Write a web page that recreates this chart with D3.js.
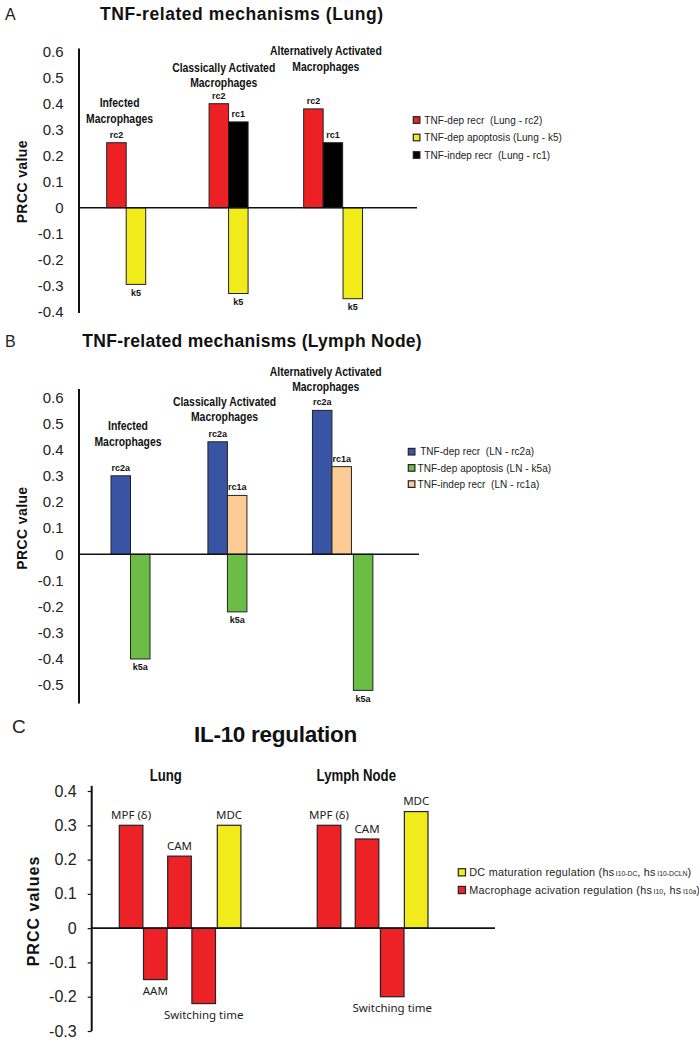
<!DOCTYPE html>
<html><head><meta charset="utf-8">
<script src="https://cdn.jsdelivr.net/npm/d3@7"></script>
<style>
body{margin:0;background:#fff;}
svg{display:block;}
</style></head><body>
<script>
// ================= DATA =================
// Panel A : TNF-related mechanisms (Lung)
const groupsA = [["Infected","Macrophages"],["Classically Activated","Macrophages"],["Alternatively Activated","Macrophages"]];
const lungRc2 = [0.25, 0.40, 0.38];
const lungRc1 = [null, 0.33, 0.25];
const lungK5  = [-0.295, -0.33, -0.35];
const seriesNamesA = ["TNF-dep recr  (Lung - rc2)", "TNF-dep apoptosis (Lung - k5)", "TNF-indep recr  (Lung - rc1)"];
const barTagsA = ["rc2", "k5", "rc1"];
const ticksA = [0.6,0.5,0.4,0.3,0.2,0.1,0,-0.1,-0.2,-0.3,-0.4];

// Panel B : TNF-related mechanisms (Lymph Node)
const groupsB = [["Infected","Macrophages"],["Classically Activated","Macrophages"],["Alternatively Activated","Macrophages"]];
const lnRc2a = [0.30, 0.43, 0.55];
const lnRc1a = [null, 0.225, 0.335];
const lnK5a  = [-0.40, -0.22, -0.52];
const seriesNamesB = [" TNF-dep recr  (LN - rc2a)", "TNF-dep apoptosis (LN - k5a)", "TNF-indep recr  (LN - rc1a)"];
const barTagsB = ["rc2a", "k5a", "rc1a"];
const ticksB = [0.6,0.5,0.4,0.3,0.2,0.1,0,-0.1,-0.2,-0.3,-0.4,-0.5];

// Panel C : IL-10 regulation
const il10Groups = ["Lung", "Lymph Node"];
const il10LungLabels = ["MPF (\u03B4)", "AAM", "CAM", "Switching time", "MDC"];
const il10LungValues = [0.30, -0.15, 0.21, -0.22, 0.30];
const il10LungKinds  = ["mac", "mac", "mac", "mac", "dc"];
const il10LnLabels = ["MPF (\u03B4)", "CAM", "Switching time", "MDC"];
const il10LnValues = [0.30, 0.26, -0.20, 0.34];
const il10LnKinds  = ["mac", "mac", "mac", "dc"];
const ticksC = [0.4,0.3,0.2,0.1,0,-0.1,-0.2,-0.3];
const legendC = [
  {kind:"dc",  parts:[["DC maturation regulation (hs",0],["I10-DC",1],[", hs",0],["I10-DCLN",1],[")",0]]},
  {kind:"mac", parts:[["Macrophage acivation regulation (hs",0],["I10",1],[", hs",0],["I10a",1],[")",0]]}
];

// ================= STYLE / LAYOUT =================
const SANS = "'Liberation Sans',Arial,Helvetica,sans-serif";
const HUMAN = "'Noto Sans','Open Sans',sans-serif";
const colA = ["#ED2024", "#F2EB1A", "#000000"];
const colB = ["#3A54A5", "#6BBD46", "#FDCB96"];
const colC = {mac:"#EC2227", dc:"#F2EB1B"};

const svg = d3.select("body").append("svg").attr("width",699).attr("height",1050)
  .style("font-family", SANS);

function fmtTick(d){ return d === 0 ? "0" : d.toFixed(1); }
// condense a text horizontally (imitates a narrow bold face)
function condense(sel, f){
  sel.each(function(){
    const w = this.getComputedTextLength();
    d3.select(this).attr("textLength", w*f).attr("lengthAdjust","spacingAndGlyphs");
  });
}

// ---------- TNF panels (A, B) ----------
function tnfPanel(o){
  const g = svg.append("g");
  const x = d3.scaleLinear().domain([0,1]).range([o.x0, o.x0 + o.unit]);
  const y = d3.scaleLinear().domain(o.domain).range(o.range);
  const bw = x(1) - x(0);

  g.append("text").attr("x",5).attr("y",o.titleY).attr("font-size",16).attr("fill","#222").text(o.letter);
  g.append("text").attr("x",o.titleX0).attr("y",o.titleY).attr("font-size",17.5).attr("font-weight","bold")
    .attr("fill","#111").attr("textLength",o.titleW).attr("lengthAdjust","spacing").text(o.title);

  const ax = g.append("g").attr("transform",`translate(${o.axisX},0)`)
    .call(d3.axisLeft(y).tickValues(o.ticks).tickFormat(fmtTick).tickSize(0).tickPadding(15.5));
  ax.select(".domain").remove();
  ax.selectAll("text").attr("font-size",15).attr("font-family",SANS).attr("fill","#222");
  g.append("line").attr("x1",o.axisX).attr("x2",o.axisX).attr("y1",y(o.axisTop)).attr("y2",y(o.axisBottom))
    .attr("stroke","#111").attr("stroke-width",2);
  g.append("text").attr("transform",`translate(26.5,${y(o.axisTitleV)}) rotate(-90)`)
    .attr("text-anchor","middle").attr("font-size",14).attr("font-weight","bold").attr("letter-spacing",0.4)
    .attr("fill","#111").text("PRCC value");

  const bars = [];
  o.series.forEach((vals,si)=>{
    vals.forEach((v,gi)=>{
      if(v===null) return;
      bars.push({v, si, gi, pos: o.groupStart[gi] + o.slots[si][gi]});
    });
  });
  g.selectAll("rect.bar").data(bars).join("rect").attr("class","bar")
    .attr("x",d=>x(d.pos)).attr("width",bw)
    .attr("y",d=>Math.min(y(d.v),y(0))).attr("height",d=>Math.abs(y(d.v)-y(0)))
    .attr("fill",d=>o.colors[d.si]).attr("stroke","#222").attr("stroke-width",1);
  g.selectAll("text.tag").data(bars).join("text").attr("class","tag")
    .attr("x",d=>x(d.pos)+bw/2).attr("y",d=>d.v>0 ? y(d.v)-5 : y(d.v)+11.5)
    .attr("text-anchor","middle").attr("font-size",9).attr("font-weight","bold").attr("fill","#111")
    .text(d=>o.tags[d.si]);

  g.append("line").attr("x1",o.axisX).attr("x2",o.zeroEnd).attr("y1",y(0)).attr("y2",y(0))
    .attr("stroke","#111").attr("stroke-width",1.6);

  o.groups.forEach((lines,gi)=>{
    lines.forEach((ln,li)=>{
      const t = g.append("text").attr("font-weight","bold").attr("font-size",13)
        .attr("text-anchor","middle").attr("fill","#111")
        .attr("x",x(o.groupStart[gi]+o.labelOff[gi]))
        .attr("y",y(o.labelV[gi]) - (lines.length-1-li)*15.5).text(ln);
      condense(t, 0.8);
    });
  });

  o.names.forEach((nm,i)=>{
    const cy = o.legY + i*o.legStep;
    g.append("rect").attr("x",o.legX).attr("y",cy-3.3).attr("width",6.6).attr("height",6.6)
      .attr("fill",o.colors[i]).attr("stroke","#222").attr("stroke-width",1.2);
    g.append("text").attr("x",o.legTextX).attr("y",cy+3.6).attr("font-size",10).attr("letter-spacing",0.05)
      .attr("fill","#222").style("white-space","pre").text(nm);
  });
}

tnfPanel({
  letter:"A", title:"TNF-related mechanisms (Lung)", titleX0:100, titleW:283, titleY:20,
  x0:106.7, unit:19.5, domain:[-0.4,0.6], range:[311.7,51.7], ticks:ticksA,
  axisX:79, axisTop:0.612, axisBottom:-0.405, axisTitleV:0.1,
  zeroEnd:417,
  series:[lungRc2, lungK5, lungRc1], slots:[[0,0,0],[1,1,2.02],[1,1,1]],
  groupStart:[0,5.25,10.1], colors:colA, tags:barTagsA, names:seriesNamesA,
  groups:groupsA, labelOff:[0.66,0.75,1.14], labelV:[0.326,0.464,0.526],
  legX:413.3, legY:120, legStep:17.5, legTextX:424.3
});

tnfPanel({
  letter:"B", title:"TNF-related mechanisms (Lymph Node)", titleX0:82.3, titleW:339.4, titleY:347.3,
  x0:111, unit:19.5, domain:[-0.6,0.6], range:[711.3,397.3], ticks:ticksB,
  axisX:79, axisTop:0.632, axisBottom:-0.57, axisTitleV:0.1,
  zeroEnd:419,
  series:[lnRc2a, lnK5a, lnRc1a], slots:[[0,0,0],[1,1,2.1],[1,1,1]],
  groupStart:[0,4.97,10.33], colors:colB, tags:barTagsB, names:seriesNamesB,
  groups:groupsB, labelOff:[0.87,0.85,0.68], labelV:[0.414,0.509,0.624],
  legX:408.3, legY:451.7, legStep:16.2, legTextX:417.5
});

// ---------- Panel C ----------
(function(){
  const g = svg.append("g");
  const x = d3.scaleLinear().domain([0,1]).range([119.3,143.5]);
  const y = d3.scaleLinear().domain([-0.3,0.4]).range([1031,791]);
  const bw = (x(1)-x(0))*0.975;
  const axisX = 91.7;

  g.append("text").attr("x",12).attr("y",733.3).attr("font-size",19).attr("fill","#222").text("C");
  g.append("text").attr("x",194).attr("y",741.7).attr("font-size",22.5).attr("font-weight","bold")
    .attr("fill","#111").attr("textLength",163.3).attr("lengthAdjust","spacing").text("IL-10 regulation");

  const ax = g.append("g").attr("transform",`translate(${axisX},0)`)
    .call(d3.axisLeft(y).tickValues(ticksC).tickFormat(fmtTick).tickSize(4).tickPadding(11));
  ax.select(".domain").remove();
  ax.selectAll("line").attr("stroke","#111").attr("stroke-width",1.2);
  ax.selectAll("text").attr("font-size",16).attr("font-family",SANS).attr("fill","#222");
  g.append("line").attr("x1",axisX).attr("x2",axisX).attr("y1",y(0.415)).attr("y2",y(-0.3))
    .attr("stroke","#111").attr("stroke-width",2);
  g.append("text").attr("transform",`translate(38.5,${y(0.05)}) rotate(-90)`)
    .attr("text-anchor","middle").attr("font-size",16).attr("font-weight","bold").attr("letter-spacing",1)
    .attr("fill","#111").text("PRCC values");

  const lungSlots = [0,1,2,3,4.05];
  const lnSlots = [8.18,9.75,10.79,11.78];
  const bars = [];
  il10LungValues.forEach((v,i)=>bars.push({v, label:il10LungLabels[i], kind:il10LungKinds[i], pos:lungSlots[i]}));
  il10LnValues.forEach((v,i)=>bars.push({v, label:il10LnLabels[i], kind:il10LnKinds[i], pos:lnSlots[i]}));

  g.selectAll("rect.bar").data(bars).join("rect").attr("class","bar")
    .attr("x",d=>x(d.pos)).attr("width",bw)
    .attr("y",d=>Math.min(y(d.v),y(0))).attr("height",d=>Math.abs(y(d.v)-y(0)))
    .attr("fill",d=>colC[d.kind]).attr("stroke","#222").attr("stroke-width",1.2);
  g.selectAll("text.tag").data(bars).join("text").attr("class","tag")
    .attr("x",d=>x(d.pos)+bw/2).attr("y",d=>d.v>0 ? y(d.v)-6.5 : y(d.v)+15)
    .attr("text-anchor","middle").attr("font-family",HUMAN).attr("font-size",11.5).attr("fill","#222")
    .text(d=>d.label);

  g.append("line").attr("x1",axisX).attr("x2",495).attr("y1",y(0)).attr("y2",y(0))
    .attr("stroke","#111").attr("stroke-width",1.6);

  const headerX = [165.8, 356.3];
  g.selectAll("text.hdr").data(il10Groups).join("text").attr("class","hdr")
    .attr("x",(d,i)=>headerX[i]).attr("y",780.7).attr("text-anchor","middle")
    .attr("font-weight","bold").attr("font-size",16.5).attr("fill","#111")
    .text(d=>d).call(condense, 0.8);

  legendC.forEach((item,i)=>{
    const cy = 872.3 + i*17.7;
    g.append("rect").attr("x",458.3).attr("y",cy-3.6).attr("width",7.2).attr("height",7.2)
      .attr("fill",colC[item.kind]).attr("stroke","#222").attr("stroke-width",1.2);
    const t = g.append("text").attr("x",469.3).attr("y",cy+4).attr("font-size",10.8)
      .attr("fill","#222");
    item.parts.forEach(([s,sub])=>{
      t.append("tspan").attr("font-size",sub?6.8:10.8).attr("letter-spacing",sub?0:0.25)
        .attr("dx",sub?1.5:0).text(s);
    });
  });
})();
</script>
</body></html>
